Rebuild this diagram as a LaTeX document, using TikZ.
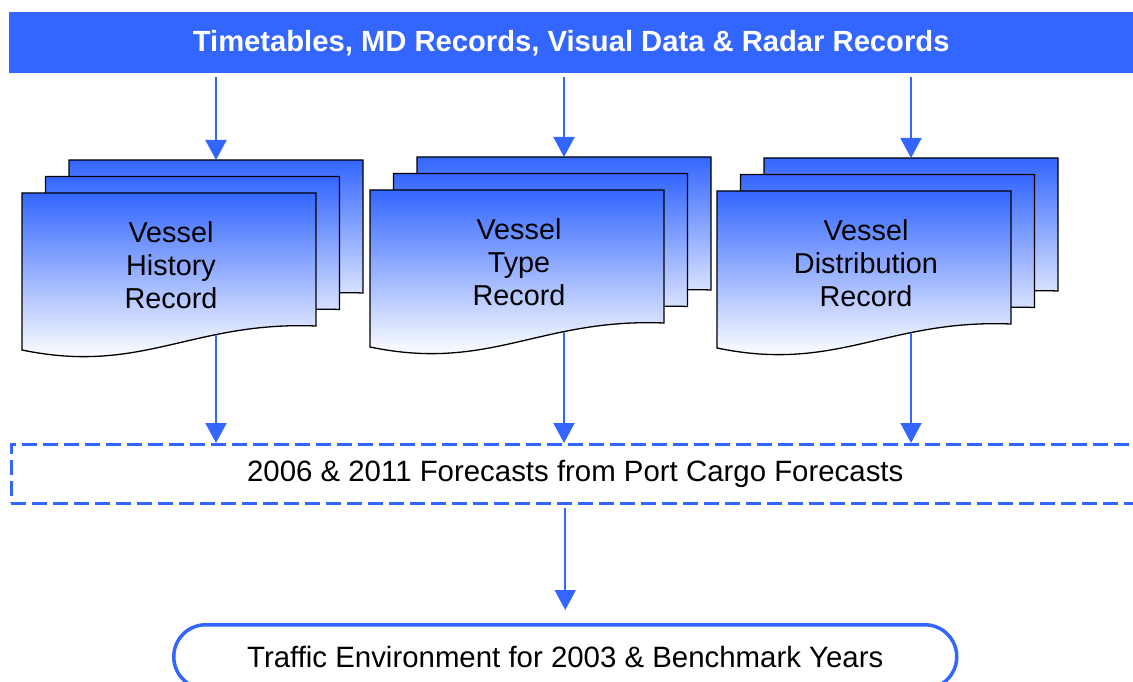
\documentclass[tikz,border=0pt]{standalone}
\usepackage{fontspec}
\setmainfont{Liberation Sans}
\usetikzlibrary{arrows.meta}
\definecolor{vblue}{HTML}{3366FF}
\pgfdeclareverticalshading{sheetfade}{100bp}{color(0bp)=(white); color(31bp)=(white!97!vblue); color(75bp)=(vblue); color(100bp)=(vblue)}

\begin{document}
\begin{tikzpicture}[
	x=1pt, y=-1pt,
	flow/.style={draw=vblue, line width=2pt, -{Triangle[width=21pt,length=20pt]}},
	sheet/.style={draw=black, line width=1.3pt, shading=sheetfade},
	rectext/.style={font=\fontsize{28.8}{33}\selectfont, align=center},
	]
\useasboundingbox (0,0) rectangle (1133,682);
% source banner
\node [fill=vblue, minimum width=1124pt, minimum height=61pt, inner sep=0pt, anchor=north west,
  text=white, font=\fontsize{29.2}{33}\selectfont\bfseries] (src) at (9,12)
  {Timetables, MD Records, Visual Data \& Radar Records};
% record stacks
\foreach \name/\gx/\gy/\txt in {hist/22/193/{Vessel\\History\\Record},
    type/370/190/{Vessel\\Type\\Record},
    dist/717/191/{Vessel\\Distribution\\Record}} {
  \foreach \d in {2,1,0}
    \shadedraw [sheet, shift={(\gx+23.5*\d,\gy-16.5*\d)}]
      (0,0) -- (294,0) -- (294,133) .. controls (170,128) and (120,182) .. (0,157) -- cycle;
  \node [rectext] (\name) at (\gx+149,\gy+72) {\txt};
  \coordinate (\name-in) at (\gx+194,\gy-33);
  \coordinate (\name-out) at (\gx+194,\gy+142);
}
% forecasts
\node [draw=vblue, line width=2.5pt, dash pattern=on 15pt off 6pt, minimum width=1128pt,
  minimum height=59pt, inner sep=0pt, anchor=north west, rectext, font=\fontsize{29.4}{33}\selectfont] (fcast) at (10,443)
  {2006 \& 2011 Forecasts from Port Cargo Forecasts};
% result
\node [draw=vblue, line width=3.5pt, rounded corners=32pt, minimum width=783pt,
  minimum height=64pt, inner sep=0pt, anchor=north west, rectext, font=\fontsize{29.4}{33}\selectfont,
  text depth=0pt, yshift=0pt] (env) at (172,623)
  {Traffic Environment for 2003 \& Benchmark Years};
% connectors
\foreach \name in {hist,type,dist} {
  \draw [flow, shorten <=4pt] (src.south -| \name-in) -- (\name-in);
  \draw [flow] (\name-out) -- (\name-out |- fcast.north);
}
\draw [flow, shorten <=3pt, shorten >=13pt] (fcast.south -| env.north) -- (env.north);
\end{tikzpicture}
\end{document}
